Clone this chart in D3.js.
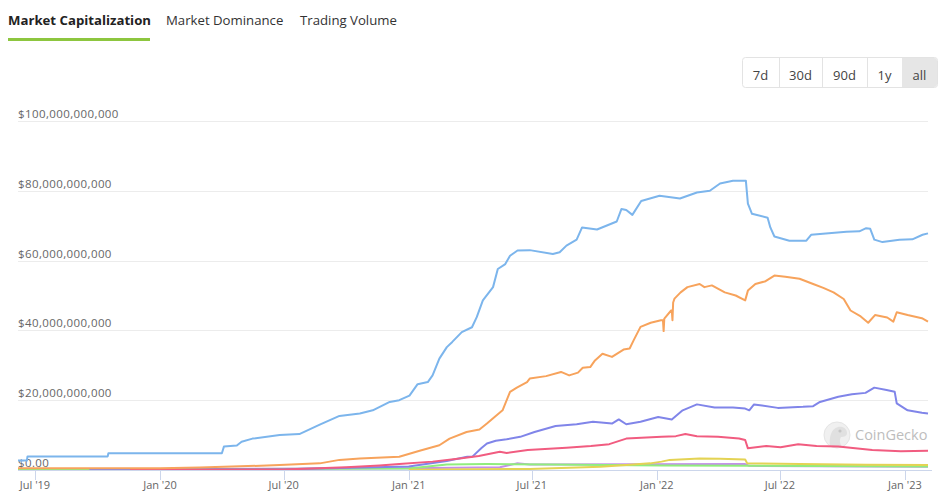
<!DOCTYPE html>
<html>
<head>
<meta charset="utf-8">
<script src="https://cdn.jsdelivr.net/npm/d3@7"></script>
<style>
  body { margin: 0; background: #fff; font-family: "Open Sans", sans-serif; }
  svg { display: block; }
</style>
</head>
<body>
<div id="chart"></div>
<script>
// values in billions of USD
const usdt = [
  ["2019-06-06", 2.7], ["2019-06-19", 2.7], ["2019-06-20", 3.9], ["2019-10-16", 3.9], ["2019-10-17", 4.8],
  ["2020-04-01", 4.8], ["2020-04-04", 6.7], ["2020-04-23", 7.0], ["2020-04-30", 8.1], ["2020-05-16", 9.0],
  ["2020-06-25", 10.0], ["2020-07-24", 10.3], ["2020-08-23", 13.0], ["2020-09-21", 15.5], ["2020-10-21", 16.2],
  ["2020-11-09", 17.1], ["2020-12-04", 19.5], ["2020-12-18", 20.0], ["2021-01-02", 21.3], ["2021-01-14", 24.6],
  ["2021-01-29", 25.2], ["2021-02-05", 27.1], ["2021-02-15", 31.9], ["2021-02-26", 35.2], ["2021-03-06", 36.7],
  ["2021-03-20", 39.5], ["2021-04-04", 40.9], ["2021-04-11", 43.8], ["2021-04-20", 48.6], ["2021-05-05", 52.4],
  ["2021-05-12", 57.6], ["2021-05-23", 59.0], ["2021-05-30", 61.4], ["2021-06-10", 62.9], ["2021-06-28", 63.0],
  ["2021-08-01", 61.9], ["2021-08-11", 62.4], ["2021-08-21", 64.3], ["2021-09-05", 66.0], ["2021-09-13", 69.5],
  ["2021-10-05", 68.9], ["2021-11-03", 71.2], ["2021-11-10", 74.8], ["2021-11-17", 74.5], ["2021-11-26", 73.1],
  ["2021-12-09", 77.1], ["2022-01-05", 78.6], ["2022-02-04", 77.8], ["2022-03-01", 79.5], ["2022-03-20", 80.0],
  ["2022-04-04", 82.1], ["2022-04-23", 82.9], ["2022-05-12", 82.9], ["2022-05-15", 76.3], ["2022-05-21", 73.4],
  ["2022-06-13", 72.3], ["2022-06-17", 69.5], ["2022-06-23", 66.9], ["2022-07-15", 65.7], ["2022-08-09", 65.7],
  ["2022-08-16", 67.4], ["2022-10-07", 68.3], ["2022-10-26", 68.4], ["2022-11-05", 69.3], ["2022-11-11", 69.1],
  ["2022-11-17", 66.0], ["2022-11-29", 65.3], ["2022-12-24", 66.0], ["2023-01-12", 66.1], ["2023-01-27", 67.4],
  ["2023-02-04", 67.8]
];
const usdc = [
  ["2019-06-06", 0.5], ["2020-01-01", 0.5], ["2020-02-28", 0.7], ["2020-06-25", 1.4], ["2020-08-23", 1.9],
  ["2020-09-21", 2.9], ["2020-10-21", 3.3], ["2020-12-18", 3.8], ["2021-01-17", 5.5], ["2021-02-15", 7.1],
  ["2021-03-02", 9.0], ["2021-03-27", 10.9], ["2021-04-15", 11.6], ["2021-04-26", 13.3], ["2021-05-09", 15.5],
  ["2021-05-19", 17.1], ["2021-05-30", 22.4], ["2021-06-09", 23.6], ["2021-06-24", 25.2], ["2021-06-28", 26.2],
  ["2021-07-22", 26.9], ["2021-08-13", 28.1], ["2021-08-25", 27.1], ["2021-09-07", 27.9], ["2021-09-14", 29.3],
  ["2021-09-25", 29.5], ["2021-10-02", 31.4], ["2021-10-13", 33.3], ["2021-10-27", 32.4], ["2021-11-13", 34.5],
  ["2021-11-22", 34.8], ["2021-11-28", 37.2], ["2021-12-08", 41.0], ["2021-12-23", 42.2], ["2022-01-07", 42.9],
  ["2022-01-10", 42.9], ["2022-01-11", 39.8], ["2022-01-12", 43.4], ["2022-01-22", 45.7], ["2022-01-23", 45.7],
  ["2022-01-24", 42.9], ["2022-01-25", 48.0], ["2022-01-27", 49.1], ["2022-02-05", 50.9], ["2022-02-15", 52.4],
  ["2022-03-05", 53.3], ["2022-03-12", 52.4], ["2022-03-23", 52.9], ["2022-04-11", 50.9], ["2022-04-27", 50.0],
  ["2022-05-11", 48.6], ["2022-05-15", 51.4], ["2022-05-26", 53.3], ["2022-06-10", 54.1], ["2022-06-23", 55.7],
  ["2022-07-09", 55.4], ["2022-07-30", 54.8], ["2022-08-19", 53.3], ["2022-09-03", 52.2], ["2022-09-18", 50.9],
  ["2022-10-03", 49.0], ["2022-10-13", 45.7], ["2022-10-28", 44.0], ["2022-11-08", 42.2], ["2022-11-18", 44.4],
  ["2022-12-06", 43.7], ["2022-12-15", 42.5], ["2022-12-20", 45.2], ["2023-01-05", 44.4], ["2023-01-26", 43.5],
  ["2023-02-04", 42.5]
];
const busd = [
  ["2019-09-19", 0.1], ["2020-01-01", 0.2], ["2020-07-01", 0.2], ["2021-01-01", 1.0], ["2021-02-26", 2.6],
  ["2021-03-28", 3.8], ["2021-04-05", 3.9], ["2021-04-18", 6.3], ["2021-04-26", 7.6], ["2021-05-09", 8.4],
  ["2021-05-25", 8.8], ["2021-06-14", 9.5], ["2021-07-05", 10.9], ["2021-08-05", 12.6], ["2021-09-05", 13.1],
  ["2021-09-29", 13.8], ["2021-10-27", 13.3], ["2021-11-06", 14.5], ["2021-11-17", 13.1], ["2021-12-08", 13.8],
  ["2022-01-03", 15.2], ["2022-01-23", 14.5], ["2022-02-08", 17.1], ["2022-03-01", 18.8], ["2022-03-27", 17.9],
  ["2022-04-23", 17.9], ["2022-05-11", 17.6], ["2022-05-17", 17.1], ["2022-05-24", 18.8], ["2022-06-28", 17.8],
  ["2022-08-04", 18.1], ["2022-08-19", 18.3], ["2022-08-29", 19.5], ["2022-09-25", 21.0], ["2022-10-15", 21.7],
  ["2022-11-04", 22.1], ["2022-11-17", 23.6], ["2022-12-05", 22.9], ["2022-12-17", 22.4], ["2022-12-20", 19.1],
  ["2023-01-05", 17.1], ["2023-01-26", 16.4], ["2023-02-04", 16.2]
];
const dai = [
  ["2019-11-18", 0.05], ["2020-01-01", 0.05], ["2020-07-01", 0.15], ["2020-10-01", 0.8], ["2020-11-19", 1.3],
  ["2020-12-18", 1.7], ["2021-02-05", 2.4], ["2021-03-17", 3.3], ["2021-04-14", 4.0], ["2021-05-15", 5.2],
  ["2021-05-25", 4.9], ["2021-06-25", 5.7], ["2021-08-21", 6.4], ["2021-09-26", 6.9], ["2021-10-23", 7.4],
  ["2021-11-17", 9.0], ["2022-01-08", 9.5], ["2022-01-29", 9.7], ["2022-02-12", 10.3], ["2022-03-01", 9.7],
  ["2022-04-01", 9.5], ["2022-05-02", 9.0], ["2022-05-11", 8.6], ["2022-05-15", 6.2], ["2022-06-11", 6.9],
  ["2022-07-02", 6.5], ["2022-07-28", 7.4], ["2022-08-24", 6.9], ["2022-09-25", 6.7], ["2022-11-14", 5.7],
  ["2022-12-26", 5.4], ["2023-02-04", 5.5]
];
const frax = [
  ["2021-01-01", 0.1], ["2021-06-28", 0.3], ["2021-10-10", 0.9], ["2021-11-17", 1.4], ["2021-12-22", 1.9],
  ["2022-01-08", 2.4], ["2022-01-20", 2.9], ["2022-03-05", 3.3], ["2022-04-04", 3.2], ["2022-05-11", 3.0],
  ["2022-05-14", 1.9], ["2022-07-30", 1.7], ["2022-11-05", 1.5], ["2023-02-04", 1.4]
];
const tusd = [
  ["2019-06-06", 0.2], ["2021-01-01", 0.4], ["2021-02-26", 1.6], ["2021-04-26", 1.7], ["2021-07-27", 1.6],
  ["2022-01-08", 1.3], ["2022-05-17", 1.2], ["2023-02-04", 1.0]
];
const usdp = [
  ["2019-06-06", 0.2], ["2021-01-01", 0.5], ["2021-05-15", 0.8], ["2021-06-09", 1.9], ["2021-06-28", 1.6],
  ["2022-05-11", 1.7], ["2022-05-17", 1.2], ["2023-02-04", 0.9]
];

const seriesNames = ["USDP", "TUSD", "FRAX", "BUSD", "DAI", "USDC", "USDT"];
const seriesData = [usdp, tusd, frax, busd, dai, usdc, usdt];
const seriesColors = ["#c490ea", "#90ed7d", "#e4d354", "#8085e9", "#f15c80", "#f7a35c", "#7cb5ec"];

const yTicks = [0, 20, 40, 60, 80, 100];
const xTicks = ["2019-07-01", "2020-01-01", "2020-07-01", "2021-01-01", "2021-07-01", "2022-01-01", "2022-07-01", "2023-01-01"];
const tabs = ["Market Capitalization", "Market Dominance", "Trading Volume"];
const ranges = ["7d", "30d", "90d", "1y", "all"];

const width = 946, height = 501;
const parse = d3.utcParse("%Y-%m-%d");

const svg = d3.select("#chart").append("svg")
    .attr("width", width)
    .attr("height", height);

// tabs
const tabX = [8, 166, 300];
svg.selectAll("text.tab").data(tabs).join("text")
    .attr("class", "tab")
    .attr("x", (d, i) => tabX[i])
    .attr("y", 25)
    .attr("font-size", 13.2)
    .attr("font-weight", (d, i) => i ? 400 : 700)
    .attr("fill", (d, i) => i ? "#333" : "#222")
    .text(d => d);
svg.append("rect").attr("x", 8).attr("y", 38).attr("width", 142).attr("height", 3).attr("fill", "#8dc63f");

// range buttons
const btnEdges = [742, 779, 822, 867, 902, 937];
const btn = svg.append("g");
btn.append("rect").attr("x", 742.5).attr("y", 57.5).attr("width", 195).attr("height", 30)
    .attr("rx", 3).attr("fill", "#fff").attr("stroke", "#e3e3e3");
btn.append("path")
    .attr("d", `M${btnEdges[4]},58H934a3,3 0 0 1 3,3V84a3,3 0 0 1 -3,3H${btnEdges[4]}Z`)
    .attr("fill", "#e6e6e6");
btn.selectAll("line").data(btnEdges.slice(1, 4)).join("line")
    .attr("x1", d => d + 0.5).attr("x2", d => d + 0.5).attr("y1", 58).attr("y2", 87)
    .attr("stroke", "#e3e3e3");
btn.selectAll("text").data(ranges).join("text")
    .attr("x", (d, i) => (btnEdges[i] + btnEdges[i + 1]) / 2)
    .attr("y", 80)
    .attr("text-anchor", "middle")
    .attr("font-size", 13)
    .attr("fill", "#444")
    .text(d => d);

// scales
const x = d3.scaleUtc()
    .domain([parse("2019-06-06"), parse("2023-02-04")])
    .range([18, 928]);
const y = d3.scaleLinear().domain([0, 100]).range([470, 121]);

// grid + y labels
const fmt = v => v === 0 ? "$0.00" : "$" + d3.format(",")(v * 1e9);
svg.append("g").selectAll("line").data(yTicks.slice(1)).join("line")
    .attr("x1", 18).attr("x2", 928)
    .attr("y1", d => Math.round(y(d)) + 0.5).attr("y2", d => Math.round(y(d)) + 0.5)
    .attr("stroke", "#ececec");
svg.append("g").selectAll("text").data(yTicks).join("text")
    .attr("x", 18)
    .attr("y", d => y(d) - 3)
    .attr("font-size", 11.5)
    .attr("letter-spacing", 0.4)
    .attr("fill", "#666")
    .text(fmt);

// watermark
const wm = svg.append("g").attr("opacity", 0.55);
wm.append("circle").attr("cx", 837).attr("cy", 435).attr("r", 13).attr("fill", "#e4e4e4").attr("stroke", "#d0d0d0");
wm.append("path")
    .attr("d", "M830,446 C829,437 831,429 838,427 C843,426 847,429 847,433 C847,436 844,437 841,437 C839,440 840,444 842,447 Z")
    .attr("fill", "#c8c8c8");
wm.append("circle").attr("cx", 840).attr("cy", 431).attr("r", 1.6).attr("fill", "#999");
wm.append("text").attr("x", 855).attr("y", 440).attr("font-size", 14.5).attr("fill", "#888").text("CoinGecko");

// lines
const line = d3.line()
    .x(d => x(parse(d[0])))
    .y(d => y(d[1]));
svg.append("g").selectAll("path").data(seriesData).join("path")
    .attr("fill", "none")
    .attr("stroke", (d, i) => seriesColors[i])
    .attr("stroke-width", 2)
    .attr("stroke-linejoin", "round")
    .attr("d", line);

// x axis
const xAxis = svg.append("g").attr("transform", "translate(0,470)");
xAxis.append("line").attr("x1", 18).attr("x2", 932).attr("y1", 0.5).attr("y2", 0.5).attr("stroke", "#ccd6eb");
const tickFmt = d3.utcFormat("%b '%y");
xAxis.selectAll("line.tick").data(xTicks).join("line")
    .attr("class", "tick")
    .attr("x1", d => Math.round(x(parse(d))) + 0.5).attr("x2", d => Math.round(x(parse(d))) + 0.5)
    .attr("y1", 0).attr("y2", 10)
    .attr("stroke", "#ccd6eb");
xAxis.selectAll("text").data(xTicks).join("text")
    .attr("x", d => x(parse(d)))
    .attr("y", 19)
    .attr("text-anchor", "middle")
    .attr("font-size", 11)
    .attr("fill", "#666")
    .text(d => tickFmt(parse(d)));
</script>
</body>
</html>
